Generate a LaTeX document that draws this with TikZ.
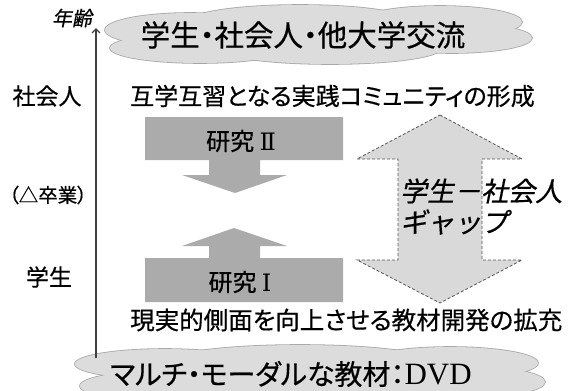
\documentclass[tikz,border=0pt]{standalone}
\usepackage{fontspec}
\usetikzlibrary{arrows.meta}
\newfontfamily\jp[RawFeature=+palt,FakeBold=0.5]{Noto Sans CJK JP}
\newfontfamily\jpit[RawFeature=+palt,FakeSlant=0.2,FakeBold=0.5]{Noto Sans CJK JP}
\newfontfamily\jpitw[FakeSlant=0.2,FakeBold=0.5]{Noto Sans CJK JP}
\newfontfamily\dvdfont{Liberation Serif}
\newfontfamily\romfont{DejaVu Serif}
\definecolor{cloudfill}{HTML}{DCDCDC}
\definecolor{cloudline}{HTML}{A8A8A8}
\definecolor{boxfill}{HTML}{ABABAB}
\definecolor{gapfill}{HTML}{D9D9D9}
\definecolor{gapline}{HTML}{555555}
\definecolor{axiscol}{HTML}{404040}
\newcommand{\fs}[1]{\fontsize{#1}{#1}\selectfont}
\tikzset{
  cloudout/.style={fill=cloudfill, draw=cloudline, line width=1.6pt},
  cloudin/.style={fill=cloudfill, draw=none},
  lbl/.style={inner sep=0pt, text=black, font=\jp},
  research/.style={fill=boxfill, draw=none},
  gaparrow/.style={fill=gapfill, draw=gapline, line width=0.8pt, dash pattern=on 3pt off 2pt},
  axis/.style={draw=axiscol, line width=1.3pt, -{Straight Barb[length=4pt,width=8pt]}}
}
\newcommand{\topcloudpath}[1]{%
  \path[#1] (190,30) ellipse [x radius=85, y radius=17];
  \path[#1] (200,48) ellipse [x radius=90, y radius=15];
  \path[#1] (300,21) ellipse [x radius=110, y radius=16];
  \path[#1] (330,49) ellipse [x radius=110, y radius=15];
  \path[#1] (440,22) ellipse [x radius=82, y radius=16];
  \path[#1] (452,38) ellipse [x radius=80, y radius=15];
  \path[#1] (315,35) ellipse [x radius=160, y radius=22];
}
\newcommand{\botcloudpath}[1]{%
  \path[#1] (165,364) ellipse [x radius=90, y radius=15];
  \path[#1] (175,386) ellipse [x radius=95, y radius=16];
  \path[#1] (300,361) ellipse [x radius=130, y radius=16];
  \path[#1] (320,390) ellipse [x radius=130, y radius=18];
  \path[#1] (450,363) ellipse [x radius=88, y radius=16];
  \path[#1] (462,382) ellipse [x radius=83, y radius=16];
  \path[#1] (310,378) ellipse [x radius=180, y radius=26];
}
\begin{document}
\begin{tikzpicture}[x=1pt,y=-1pt]
\useasboundingbox (0,0) rectangle (568,391);
% clouds
\topcloudpath{cloudout}
\topcloudpath{cloudin}
\coordinate (topcloud) at (318,35);
\node[lbl, font=\jp\fs{29.5}] (toptext) at (303,35) {学生・社会人・他大学交流};
\botcloudpath{cloudout}
\botcloudpath{cloudin}
\coordinate (botcloud) at (310,378);
\node[lbl, font=\jp\fs{28}, anchor=west] (bottext) at (110,374) {マルチ・モーダルな教材：{\dvdfont\fs{31}DVD}};
% axis
\coordinate (axbot) at (96,358);
\coordinate (axtop) at (96,28);
\draw[axis] (axbot) -- (axtop);
\node[lbl, font=\jpit\fs{20}] (age) at (72,18) {年齢};
% left labels
\node[lbl, font=\jp\fs{23}] (shakai) at (47,96) {社会人};
\node[lbl, font=\jp\fs{19.5}] (sotsu) at (48,195) {（△卒業）};
\node[lbl, font=\jp\fs{23}] (gakusei) at (49,277) {学生};
% lines of text
\node[lbl, font=\jp\fs{24}, anchor=west] (line1) at (130,96) {互学互習となる実践コミュニティの形成};
\node[lbl, font=\jp\fs{24.5}, anchor=west] (line3) at (130,320) {現実的側面を向上させる教材開発の拡充};
% research II (down)
\path[research] (145,117) -- (343,117) -- (343,160) -- (260,160) -- (260,175) -- (287,175)
  -- (235,193) -- (182,175) -- (209,175) -- (209,160) -- (145,160) -- cycle;
\node[lbl, font=\jp\fs{24}] (r2) at (241,141) {研究 {\romfont Ⅱ}};
% research I (up)
\path[research] (145,302) -- (343,302) -- (343,258) -- (260,258) -- (260,246) -- (287,246)
  -- (234,228) -- (182,246) -- (209,246) -- (209,258) -- (145,258) -- cycle;
\node[lbl, font=\jp\fs{24}] (r1) at (240,282) {研究 {\romfont Ⅰ}};
% gap double arrow
\path[gaparrow] (440,115) -- (522,159) -- (482,159) -- (482,260) -- (522,260) -- (440,303)
  -- (357,260) -- (398,260) -- (398,159) -- (357,159) -- cycle;
\node[lbl, font=\jpitw\fs{27}, anchor=west] (gap1) at (400,191) {学生－社会人};
\node[lbl, font=\jpitw\fs{27}, anchor=west] (gap2) at (400,222) {ギャップ};
\end{tikzpicture}
\end{document}
